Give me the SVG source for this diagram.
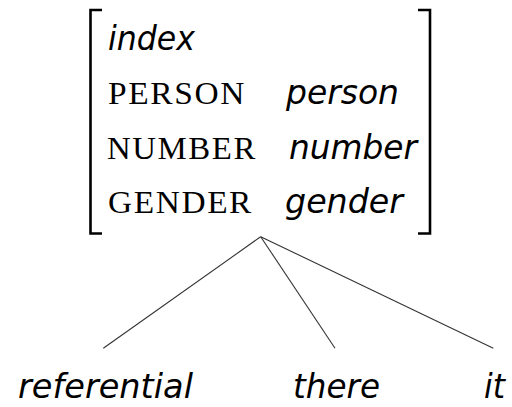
<svg xmlns="http://www.w3.org/2000/svg" width="512" height="407" viewBox="0 0 512 407">
<style>
.it{font-family:"DejaVu Sans","Liberation Sans",sans-serif;font-style:italic;font-size:33px;fill:#000}
.sc{font-family:"Liberation Serif","DejaVu Serif",serif;font-size:31px;letter-spacing:1.5px;fill:#000}
.br{fill:none;stroke:#000;stroke-width:2.6}
.edge{stroke:#333;stroke-width:1.1;fill:none}
</style>
<rect width="512" height="407" fill="#fff"/>
<g id="avm">
<path class="br" d="M102,10 H90.5 V233.5 H102"/>
<path class="br" d="M418,10 H430 V233.5 H418"/>
<text class="it" x="108" y="50" textLength="87" lengthAdjust="spacingAndGlyphs">index</text>
<text class="sc" x="108" y="104" textLength="138" lengthAdjust="spacingAndGlyphs">PERSON</text>
<text class="it" x="286" y="104" textLength="113" lengthAdjust="spacingAndGlyphs">person</text>
<text class="sc" x="107" y="158.5" textLength="150" lengthAdjust="spacingAndGlyphs">NUMBER</text>
<text class="it" x="289" y="159" textLength="128" lengthAdjust="spacingAndGlyphs">number</text>
<text class="sc" x="108" y="213" textLength="145" lengthAdjust="spacingAndGlyphs">GENDER</text>
<text class="it" x="285" y="213" textLength="118" lengthAdjust="spacingAndGlyphs">gender</text>
</g>
<g id="connectors">
<line class="edge" x1="260.7" y1="236.7" x2="103.3" y2="348.3"/>
<line class="edge" x1="260.7" y1="236.7" x2="335" y2="348.3"/>
<line class="edge" x1="260.7" y1="236.7" x2="493.3" y2="348.3"/>
</g>
<g id="referential"><text class="it" x="18" y="398" textLength="175" lengthAdjust="spacingAndGlyphs">referential</text></g>
<g id="there"><text class="it" x="293" y="398" textLength="87" lengthAdjust="spacingAndGlyphs">there</text></g>
<g id="it"><text class="it" x="484" y="398" textLength="21" lengthAdjust="spacingAndGlyphs">it</text></g>
</svg>
